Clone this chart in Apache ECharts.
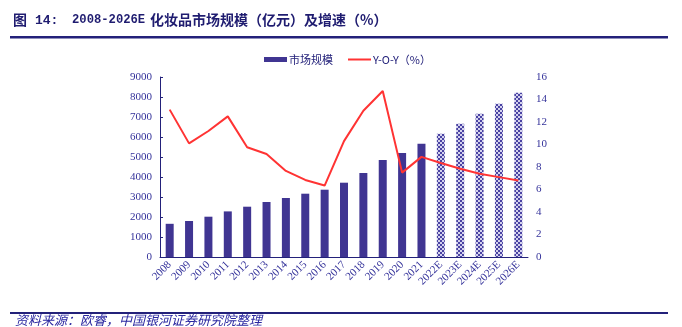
<!DOCTYPE html>
<html><head><meta charset="utf-8">
<script src="https://cdn.jsdelivr.net/npm/echarts@6/dist/echarts.min.js"></script>
<style>html,body{margin:0;padding:0;background:#fff}#c{width:682px;height:327px}</style>
</head><body><div id="c"></div>
<script>
var categories = ['2008','2009','2010','2011','2012','2013','2014','2015','2016','2017','2018','2019','2020','2021','2022E','2023E','2024E','2025E','2026E'];
var marketSize = [1660,1800,2015,2280,2515,2750,2950,3165,3365,3715,4200,4850,5200,5665,6165,6665,7165,7665,8215];
var yoy = [13.1,10.1,11.2,12.5,9.75,9.15,7.65,6.85,6.35,10.3,13.0,14.75,7.5,8.9,8.35,7.85,7.4,7.1,6.8];
var leftTicks = [0,1000,2000,3000,4000,5000,6000,7000,8000,9000];
var rightTicks = [0,2,4,6,8,10,12,14,16];
var forecastFrom = 14;

var navy = '#23217a';
var labelColor = '#34329a';
var barColor = '#403592';

var pc = document.createElement('canvas');
pc.width = 4; pc.height = 4;
var g = pc.getContext('2d');
g.fillStyle = '#d4d2ee'; g.fillRect(0,0,4,4);
g.fillStyle = '#4a43a2';
g.fillRect(0,0,2,2); g.fillRect(2,2,2,2);
var pattern = {image: pc, repeat: 'repeat'};

var barData = marketSize.map(function(v,i){
  return i >= forecastFrom ? {value: v, itemStyle: {color: pattern}} : v;
});

var serif = '"Liberation Serif","DejaVu Serif",serif';
var cjk = '"Noto Sans CJK SC","Liberation Serif",serif';
var mono = '"Liberation Mono","DejaVu Sans Mono",monospace';

var chart = echarts.init(document.getElementById('c'), null, {renderer: 'canvas'});
chart.setOption({
  animation: false,
  backgroundColor: '#fff',
  legend: {
    left: 259, top: 49, itemWidth: 23, itemHeight: 5, itemGap: 14,
    textStyle: {fontFamily: cjk, fontSize: 11, color: navy, padding: [0,0,0,-3]},
    data: [{name: '市场规模', icon: 'rect'}, {name: 'Y-O-Y（%）', itemStyle: {opacity: 0}}]
  },
  grid: {left: 160, right: 154, top: 77, bottom: 70, containLabel: false},
  xAxis: {
    type: 'category', data: categories,
    axisLine: {lineStyle: {color: navy, width: 1}},
    axisTick: {inside: true, length: 3, lineStyle: {color: navy}},
    axisLabel: {rotate: 45, interval: 0, fontFamily: serif, fontSize: 11, color: labelColor, margin: 6}
  },
  yAxis: [{
    type: 'value', min: leftTicks[0], max: leftTicks[leftTicks.length-1], interval: leftTicks[1]-leftTicks[0],
    axisLine: {show: true, lineStyle: {color: navy}},
    axisTick: {show: true, inside: true, length: 3, lineStyle: {color: navy}},
    splitLine: {show: false},
    axisLabel: {fontFamily: serif, fontSize: 11, color: labelColor, margin: 8, formatter: function(v){ return String(v); }}
  }, {
    type: 'value', min: rightTicks[0], max: rightTicks[rightTicks.length-1], interval: rightTicks[1]-rightTicks[0], position: 'right',
    axisLine: {show: false},
    axisTick: {show: false},
    splitLine: {show: false},
    axisLabel: {fontFamily: serif, fontSize: 11, color: labelColor, margin: 8, formatter: function(v){ return String(v); }}
  }],
  series: [{
    name: '市场规模', type: 'bar', data: barData, barWidth: 8,
    itemStyle: {color: barColor}
  }, {
    name: 'Y-O-Y（%）', type: 'line', yAxisIndex: 1, data: yoy,
    symbol: 'none', lineStyle: {color: '#ff3333', width: 2}, itemStyle: {color: '#ff3333'}
  }],
  graphic: [
    {type: 'text', left: 13, top: 13, style: {text: '图', font: 'bold 14px ' + cjk, fill: '#1f1c70'}},
    {type: 'text', left: 35, top: 14, style: {text: '14:', font: 'bold 13px ' + mono, fill: '#1f1c70'}},
    {type: 'text', left: 72, top: 14, style: {text: '2008-2026E', font: 'bold 12.2px ' + mono, fill: '#1f1c70'}},
    {type: 'text', left: 150, top: 13, style: {text: '化妆品市场规模（亿元）及增速（%）', font: 'bold 14px ' + cjk, fill: '#1f1c70'}},
    {type: 'rect', shape: {x: 10, y: 36, width: 658, height: 2.5}, style: {fill: navy}},
    {type: 'rect', shape: {x: 10, y: 312, width: 658, height: 2}, style: {fill: navy}},
    {type: 'text', left: 15, top: 314, style: {text: '资料来源：欧睿，中国银河证券研究院整理', font: 'italic 13px ' + cjk, fill: '#2a27a0'}}
  ]
});
</script></body></html>
